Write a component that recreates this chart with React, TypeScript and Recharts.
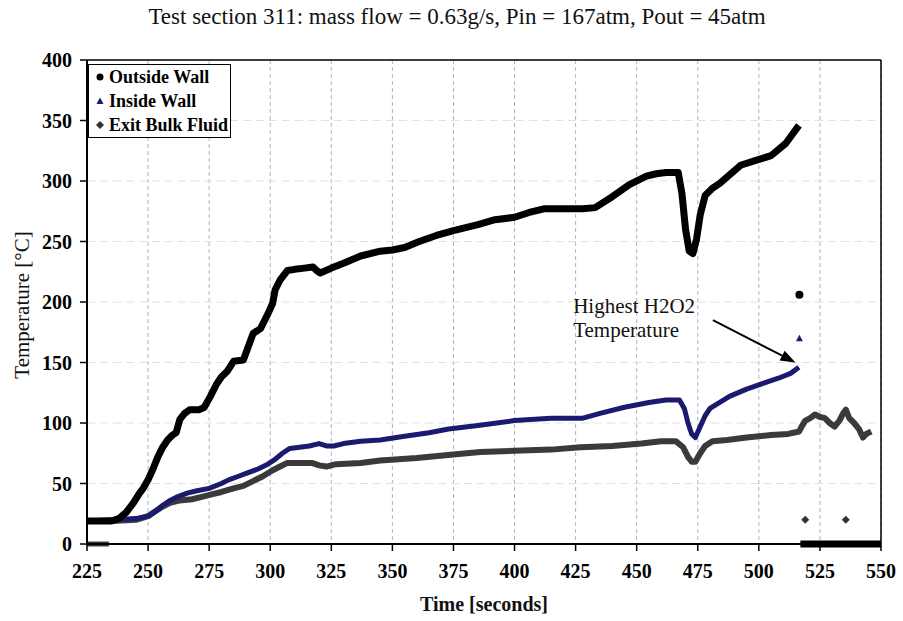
import {
    ComposedChart, Line, Scatter, XAxis, YAxis, CartesianGrid, ReferenceLine, ReferenceDot, Legend, Label
} from "recharts"

const FONT = "'Liberation Serif', 'Times New Roman', serif"

const xTicks = [225, 250, 275, 300, 325, 350, 375, 400, 425, 450, 475, 500, 525, 550]
const yTicks = [0, 50, 100, 150, 200, 250, 300, 350, 400]

// Outside Wall (black)
const outsideTime = [225, 230, 235, 238, 241, 244, 246.5, 248, 250, 252, 254, 256, 258, 260, 261.5, 263, 265, 267, 271, 273, 275.5, 278, 280, 282.5, 285, 289, 291, 293, 296, 299, 301, 302, 304, 307, 310, 314, 317.5, 319, 320.5, 325, 330, 337, 345, 350, 355, 361, 368, 375, 385, 392, 400, 406, 412, 420, 428, 433, 440, 447, 454, 458, 462, 467, 468.5, 470, 471.5, 473, 474.5, 476, 478, 481, 484, 488, 492.5, 498.8, 505, 511, 516.4]
const outsideTemp = [19, 19, 19, 21, 26, 34, 42, 46, 53, 62, 72, 80, 86, 90, 92, 103, 108, 111, 111, 113, 122, 132, 138, 143, 151, 152, 163, 174, 178, 190, 199, 210, 218, 226, 227, 228, 229, 226, 224, 228, 232, 238, 242, 243, 245, 250, 255, 259, 264, 268, 270, 274, 277, 277, 277, 278, 287, 297, 304, 306, 307, 307, 290, 260, 242, 240, 252, 272, 288, 294, 298, 305, 313, 317, 321, 331, 346]
const outsideZeroTime = [517, 520, 525, 530, 535, 540, 545, 550]
const outsideZeroTemp = [0, 0, 0, 0, 0, 0, 0, 0]
const outsideOddTime = [516.6]
const outsideOddTemp = [206]

// Inside Wall (navy)
const insideTime = [225, 235, 245, 250, 253, 256, 259, 262, 266, 270, 275, 280, 283, 287, 291, 295, 299, 302, 305, 308, 312, 316, 320, 323, 326, 330, 337, 345, 355, 365, 373, 385, 400, 415, 428, 435, 445, 455, 462, 467.5, 469.5, 471, 472.5, 474, 476, 478, 480, 484, 488, 495, 502, 508, 513, 516.4]
const insideTemp = [19, 20, 21, 23, 27, 32, 36, 39, 42, 44, 46, 50, 53, 56, 59, 62, 66, 70, 75, 79, 80, 81, 83, 81, 81, 83, 85, 86, 89, 92, 95, 98, 102, 104, 104, 108, 113, 117, 119, 119, 112, 100, 91, 88, 97, 106, 112, 117, 122, 128, 133, 137, 141, 146]
const insideOddTime = [516.6]
const insideOddTemp = [170]

// Exit Bulk Fluid (dark grey)
const exitTime = [225, 235, 245, 250, 253, 256, 259, 263, 268, 272, 276, 280, 285, 289, 293, 297, 301, 304, 307, 312, 317, 320, 323, 327, 337, 345, 360, 375, 386, 400, 415, 427, 440, 452, 460, 466, 469, 471, 472.5, 474, 476, 478, 481, 487, 495, 505, 512, 516.5, 517.5, 519, 521, 523, 525, 527, 529, 531, 533, 534.5, 535.6, 537, 539, 541, 542.6, 544, 546]
const exitTemp = [19, 19, 20, 23, 27, 31, 34, 36, 37, 39, 41, 43, 46, 48, 52, 56, 61, 64, 67, 67, 67, 65, 64, 66, 67, 69, 71, 74, 76, 77, 78, 80, 81, 83, 85, 85, 80, 72, 68, 68, 75, 81, 85, 86, 88, 90, 91, 93, 97, 102, 104, 107, 105, 104, 100, 97, 102, 108, 111, 104, 100, 95, 88, 91, 93]
const exitZeroTime = [225, 228, 231, 234]
const exitZeroTemp = [0, 0, 0, 0]
const exitOddTime = [519, 535.6]
const exitOddTemp = [20, 20]

const pts = (ts: number[], vs: number[]) => ts.map((t, i) => ({ t, v: vs[i] }))

const outside = [...pts(outsideTime, outsideTemp), { t: 516.7, v: null }, ...pts(outsideZeroTime, outsideZeroTemp)]
const inside = pts(insideTime, insideTemp)
const exitFluid = pts(exitTime, exitTemp)
const exitZero = pts(exitZeroTime, exitZeroTemp)

const legendItems = [
    { name: "Outside Wall", marker: "circle", color: "#000" },
    { name: "Inside Wall", marker: "triangle", color: "#1a1a6e" },
    { name: "Exit Bulk Fluid", marker: "diamond", color: "#333" },
]

function Marker({ kind, color }: { kind: string, color: string }) {
    if (kind === "circle") return <circle cx={5} cy={5} r={3.5} fill={color} />
    if (kind === "triangle") return <polygon points="5,1.5 8.5,8 1.5,8" fill={color} />
    return <polygon points="5,1 9,5 5,9 1,5" fill={color} />
}

function LegendBox() {
    return (
        <div style={{
            border: "1.5px solid #000", background: "#fff", padding: "0 5px 0 6px",
            fontFamily: FONT, fontWeight: "bold", fontSize: 18, lineHeight: "24px", width: 130
        }}>
            {legendItems.map(it => (
                <div key={it.name} style={{ display: "flex", alignItems: "center", whiteSpace: "nowrap" }}>
                    <svg width={10} height={10} style={{ marginRight: 4, flexShrink: 0 }}><Marker kind={it.marker} color={it.color} /></svg>
                    {it.name}
                </div>
            ))}
        </div>
    )
}

const Arrow = (p: any) => {
    const { x1, y1, x2, y2 } = p
    const a = Math.atan2(y2 - y1, x2 - x1)
    const len = 15, w = 5.5
    const bx = x2 - len * Math.cos(a), by = y2 - len * Math.sin(a)
    const head = `${x2},${y2} ${bx + w * Math.sin(a)},${by - w * Math.cos(a)} ${bx - w * Math.sin(a)},${by + w * Math.cos(a)}`
    return (
        <g>
            <line x1={x1} y1={y1} x2={bx} y2={by} stroke="#000" strokeWidth={2} />
            <polygon points={head} fill="#000" />
        </g>
    )
}

const Note = (p: any) => (
    <text x={p.cx} y={p.cy} fontFamily={FONT} fontSize={21} fill="#111">
        <tspan x={p.cx}>Highest H2O2</tspan>
        <tspan x={p.cx} dy={24}>Temperature</tspan>
    </text>
)

const tickStyle = { fill: "#000", fontSize: 20, fontWeight: "bold", fontFamily: FONT }

export default function App() {
    return (
        <div style={{ position: "absolute", left: 0, top: 0, width: 903, height: 621, background: "#fff" }}>
            <div style={{
                position: "absolute", left: 0, top: 4, width: 914, textAlign: "center",
                fontFamily: FONT, fontSize: 23, color: "#111"
            }}>
                Test section 311: mass flow = 0.63g/s, Pin = 167atm, Pout = 45atm
            </div>
            <ComposedChart width={903} height={621} margin={{ top: 60, right: 22, bottom: 0, left: 0 }}>
                <CartesianGrid horizontal={false} stroke="#aeb2cf" strokeDasharray="4 3" />
                <CartesianGrid vertical={false} stroke="#e2e2e2" strokeDasharray="8 5" />
                <XAxis
                    dataKey="t" type="number" domain={[225, 550]} ticks={xTicks} height={77}
                    axisLine={{ stroke: "#000", strokeWidth: 2 }} tickLine={{ stroke: "#000", strokeWidth: 1.5 }}
                    tickSize={7} tickMargin={13} tick={tickStyle} allowDataOverflow
                >
                    <Label content={({ viewBox }: any) => (
                        <text x={viewBox.x + viewBox.width / 2} y={611} textAnchor="middle"
                            fontFamily={FONT} fontWeight="bold" fontSize={20} fill="#111">Time [seconds]</text>
                    )} />
                </XAxis>
                <YAxis
                    dataKey="v" type="number" domain={[0, 400]} ticks={yTicks} width={87}
                    axisLine={{ stroke: "#000", strokeWidth: 2 }} tickLine={{ stroke: "#000", strokeWidth: 1.5 }}
                    tickSize={7} tickMargin={8} tick={tickStyle}
                >
                    <Label content={() => (
                        <text x={22} y={305} textAnchor="middle" dominantBaseline="central" transform="rotate(-90 22 305)"
                            fontFamily={FONT} fontSize={21} fill="#111">Temperature [°C]</text>
                    )} />
                </YAxis>
                <ReferenceLine y={400} stroke="#000" strokeWidth={1.5} />
                <ReferenceLine x={550} stroke="#000" strokeWidth={1.5} />
                <Legend
                    layout="horizontal" verticalAlign="middle" align="center"
                    wrapperStyle={{ left: 88, top: 64, width: "auto" }}
                    content={() => <LegendBox />}
                />
                <Line data={exitFluid} dataKey="v" stroke="#3a3a3a" strokeWidth={6} dot={false} activeDot={false}
                    strokeLinejoin="round" isAnimationActive={false} />
                <Line data={exitZero} dataKey="v" stroke="#3a3a4a" strokeWidth={5} dot={false} activeDot={false}
                    isAnimationActive={false} />
                <Line data={inside} dataKey="v" stroke="#1a1a6e" strokeWidth={5} dot={false} activeDot={false}
                    strokeLinejoin="round" isAnimationActive={false} />
                <Line data={outside} dataKey="v" stroke="#000" strokeWidth={7} dot={false} activeDot={false}
                    strokeLinejoin="round" isAnimationActive={false} />
                <Scatter data={pts(outsideOddTime, outsideOddTemp)} isAnimationActive={false}
                    shape={(p: any) => <circle cx={p.cx} cy={p.cy} r={4} fill="#000" />} />
                <Scatter data={pts(insideOddTime, insideOddTemp)} isAnimationActive={false}
                    shape={(p: any) => <polygon points={`${p.cx},${p.cy - 3.5} ${p.cx + 3.5},${p.cy + 3} ${p.cx - 3.5},${p.cy + 3}`} fill="#1a1a6e" />} />
                <Scatter data={pts(exitOddTime, exitOddTemp)} isAnimationActive={false}
                    shape={(p: any) => <polygon points={`${p.cx},${p.cy - 4} ${p.cx + 4},${p.cy} ${p.cx},${p.cy + 4} ${p.cx - 4},${p.cy}`} fill="#333" />} />
                <ReferenceLine segment={[{ x: 481.2, y: 185 }, { x: 515, y: 150 }]} shape={Arrow} />
                <ReferenceDot x={424} y={191} r={0} shape={Note} />
            </ComposedChart>
        </div>
    )
}
